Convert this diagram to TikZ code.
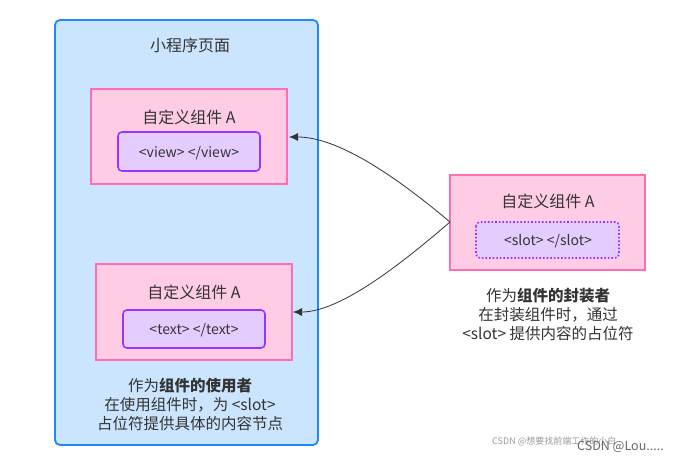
\documentclass[tikz,border=0pt]{standalone}
\usepackage{fontspec}
\setmainfont{Noto Sans CJK SC}
\usetikzlibrary{arrows.meta}
\definecolor{pageblue}{HTML}{CCE5FF}
\definecolor{pageborder}{HTML}{1E88FF}
\definecolor{pinkfill}{HTML}{FFCCE6}
\definecolor{pinkborder}{HTML}{FF6EB4}
\definecolor{purpfill}{HTML}{E5CCFF}
\definecolor{purpborder}{HTML}{9933FF}
\definecolor{txt}{HTML}{333333}
\tikzset{
  pagebox/.style={draw=pageborder, fill=pageblue, line width=1.8pt, rounded corners=5pt},
  compbox/.style={draw=pinkborder, fill=pinkfill, line width=1.6pt},
  tagbox/.style={draw=purpborder, fill=purpfill, line width=1.6pt, rounded corners=4pt},
  slotbox/.style={draw=purpborder, fill=purpfill, line width=1.6pt, rounded corners=4pt, dotted},
  lbl/.style={text=txt, font=\fontsize{16}{18}\selectfont, inner sep=0pt},
  tag/.style={text=txt, font=\fontsize{14}{16}\selectfont, inner sep=0pt},
  captext/.style={text=txt, font=\fontsize{15.5}{19}\selectfont, inner sep=0pt, align=center},
  conn/.style={draw=txt, line width=0.8pt, -{Latex[length=9pt,width=8pt]}},
}
\begin{document}
\begin{tikzpicture}[x=1pt,y=-1pt]
\useasboundingbox (0,0) rectangle (684,462);
% page
\draw[pagebox] (55,20) rectangle (318,445);
\node[lbl] (title) at (190,45) {小程序页面};
% component 1
\draw[compbox] (91,89) rectangle (287,184);
\coordinate (c1r) at (289,137);
\node[lbl] (c1t) at (189,117) {自定义组件 A};
\draw[tagbox] (118,132) rectangle (260,171);
\node[tag] (view) at (189,153) {<view> </view>};
% component 2
\draw[compbox] (96,264) rectangle (292,360);
\coordinate (c2r) at (293,312);
\node[lbl] (c2t) at (194,292) {自定义组件 A};
\draw[tagbox] (123,310) rectangle (265,348);
\node[tag] (text) at (194,330) {<text> </text>};
% user caption
\node[captext] (usercap) at (190,404) {作为\textbf{组件的使用者}\\在使用组件时，为 <slot>\\占位符提供具体的内容节点};
% wrapper component
\draw[compbox] (450,175) rectangle (645,270);
\coordinate (wl) at (450,222);
\node[lbl] (wt) at (548,201) {自定义组件 A};
\draw[slotbox] (476,222) rectangle (619,258);
\node[tag] (slot) at (548,241) {<slot> </slot>};
\node[captext] (wrapcap) at (548,314) {作为\textbf{组件的封装者}\\在封装组件时，通过\\<slot> 提供内容的占位符};
% connectors
\draw[conn] (wl) .. controls (400,180) and (340,137) .. (c1r);
\draw[conn] (wl) .. controls (400,265) and (340,312) .. (c2r);
% watermark
\node[text=black!40, font=\fontsize{9}{10}\selectfont, inner sep=0pt, anchor=west] (wm1) at (492,441) {CSDN @想要找前端工作的小白};
\node[text=black!60, font=\fontsize{12.5}{13}\selectfont, inner sep=0pt, anchor=west] (wm2) at (577,447) {CSDN @Lou.....};
\end{tikzpicture}
\end{document}
